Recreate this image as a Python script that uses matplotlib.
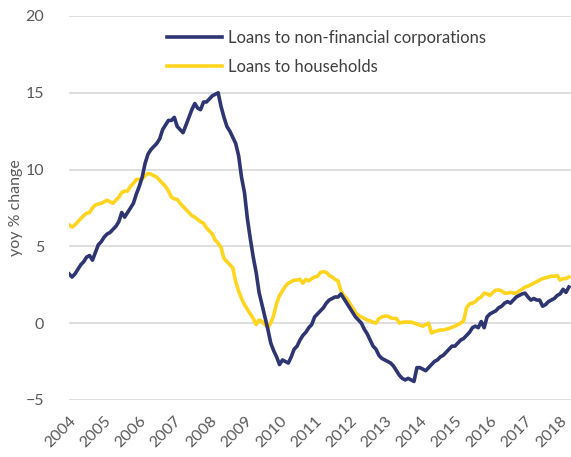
import numpy as np
import matplotlib
matplotlib.use("Agg")
import matplotlib.pyplot as plt

# monthly yoy % change, Jan 2004 - Apr 2018
nfc = [
    3.2, 3.0, 3.2, 3.5, 3.8, 4.0, 4.3, 4.4, 4.1, 4.6, 5.1, 5.3,        # 2004
    5.6, 5.8, 5.9, 6.1, 6.3, 6.6, 7.2, 6.9, 7.2, 7.5, 7.8, 8.4,        # 2005
    8.9, 9.5, 10.4, 11.0, 11.3, 11.5, 11.7, 12.0, 12.6, 12.9, 13.2, 13.2,  # 2006
    13.4, 12.8, 12.6, 12.4, 12.9, 13.4, 13.9, 14.3, 14.0, 13.9, 14.4, 14.4,  # 2007
    14.6, 14.8, 14.9, 15.0, 14.1, 13.4, 12.8, 12.5, 12.1, 11.7, 10.9, 9.5,  # 2008
    8.5, 6.8, 5.5, 4.3, 3.3, 2.0, 1.2, 0.4, -0.4, -1.3, -1.8, -2.2,    # 2009
    -2.7, -2.4, -2.5, -2.6, -2.2, -1.7, -1.5, -1.1, -0.8, -0.6, -0.3, -0.1,  # 2010
    0.4, 0.6, 0.8, 1.0, 1.3, 1.5, 1.6, 1.7, 1.7, 1.9, 1.6, 1.3,        # 2011
    1.0, 0.7, 0.4, 0.2, 0.0, -0.4, -0.7, -1.1, -1.5, -1.7, -2.1, -2.3,  # 2012
    -2.4, -2.5, -2.6, -2.8, -3.1, -3.4, -3.6, -3.7, -3.6, -3.7, -3.8, -2.9,  # 2013
    -2.9, -3.0, -3.1, -2.9, -2.7, -2.5, -2.4, -2.2, -2.1, -1.9, -1.7, -1.5,  # 2014
    -1.5, -1.3, -1.1, -1.0, -0.8, -0.6, -0.3, -0.2, -0.3, 0.1, -0.3, 0.4,  # 2015
    0.6, 0.7, 0.8, 1.0, 1.1, 1.3, 1.4, 1.3, 1.5, 1.7, 1.8, 1.9,        # 2016
    1.95, 1.7, 1.5, 1.6, 1.5, 1.5, 1.1, 1.2, 1.4, 1.5, 1.6, 1.8,       # 2017
    1.9, 2.2, 2.0, 2.35,                                               # 2018
]
households = [
    6.4, 6.25, 6.4, 6.6, 6.8, 7.0, 7.15, 7.2, 7.5, 7.7, 7.75, 7.8,     # 2004
    7.9, 8.0, 7.9, 7.8, 8.0, 8.2, 8.5, 8.6, 8.6, 8.9, 9.1, 9.35,       # 2005
    9.35, 9.4, 9.6, 9.75, 9.7, 9.6, 9.5, 9.3, 9.1, 8.9, 8.6, 8.2,      # 2006
    8.1, 8.05, 7.8, 7.6, 7.4, 7.2, 7.0, 6.9, 6.75, 6.6, 6.5, 6.2,      # 2007
    6.0, 5.8, 5.4, 5.2, 4.9, 4.2, 4.0, 3.8, 3.6, 2.7, 2.1, 1.6,        # 2008
    1.2, 0.9, 0.6, 0.3, -0.1, 0.2, 0.1, -0.1, -0.3, 0.0, 0.5, 1.3,     # 2009
    1.8, 2.1, 2.4, 2.6, 2.7, 2.8, 2.8, 2.85, 2.6, 2.85, 2.75, 2.9,     # 2010
    3.0, 3.05, 3.3, 3.35, 3.3, 3.1, 3.0, 2.85, 2.75, 2.1, 1.8, 1.6,    # 2011
    1.3, 1.0, 0.7, 0.5, 0.4, 0.3, 0.2, 0.15, 0.05, 0.0, 0.3, 0.4,      # 2012
    0.45, 0.45, 0.35, 0.3, 0.3, 0.0, 0.05, 0.07, 0.07, 0.07, 0.0, -0.07,  # 2013
    -0.13, -0.2, -0.1, 0.0, -0.65, -0.55, -0.5, -0.45, -0.45, -0.4, -0.35, -0.27,  # 2014
    -0.2, -0.1, 0.0, 0.15, 1.0, 1.25, 1.3, 1.4, 1.6, 1.7, 1.95, 1.9,   # 2015
    1.8, 2.0, 2.15, 2.15, 2.1, 1.95, 1.95, 2.0, 1.95, 1.95, 2.1, 2.2,  # 2016
    2.35, 2.4, 2.5, 2.6, 2.7, 2.8, 2.9, 2.95, 3.0, 3.05, 3.05, 3.1,    # 2017
    2.8, 2.9, 2.9, 3.0,                                                # 2018
]
years = list(range(2004, 2019))
yticks = [-5, 0, 5, 10, 15, 20]

t = 2004 + np.arange(len(nfc)) / 12

plt.rcParams["font.family"] = ["Lato", "DejaVu Sans"]
grey = "#595959"

fig = plt.figure(figsize=(5.71, 4.57), dpi=100)
ax = fig.add_axes([0.121, 0.125, 0.879, 0.840])

ax.plot(t, nfc, color="#2E3572", lw=2.6, label="Loans to non-financial corporations",
        solid_joinstyle="round", zorder=3)
ax.plot(t, households, color="#FFD51F", lw=2.6, label="Loans to households",
        solid_joinstyle="round", zorder=2)

ax.set_xlim(2004, 2018.31)
ax.set_ylim(-5, 20)
ax.set_yticks(yticks)
ax.set_xticks(years)
ax.set_xticklabels([str(y) for y in years], rotation=45, ha="right",
                   rotation_mode="anchor")
ax.tick_params(axis="both", length=0, labelsize=11.5, colors=grey)
ax.tick_params(axis="x", pad=10)
ax.tick_params(axis="y", pad=18)
ax.yaxis.grid(True, color="#D9D9D9", lw=1.2)
ax.set_axisbelow(True)
for s in ax.spines.values():
    s.set_visible(False)

ax.set_ylabel("yoy % change", fontsize=11.5, color=grey, labelpad=2)

ax.legend(loc="upper left", bbox_to_anchor=(167 / 571, 1 - 30 / 457),
          bbox_transform=fig.transFigure, frameon=False, fontsize=12,
          handlelength=3.3, handletextpad=0.35, labelspacing=0.75,
          borderaxespad=0, borderpad=0, labelcolor="#404040")

fig.savefig("out.png", dpi=100)
